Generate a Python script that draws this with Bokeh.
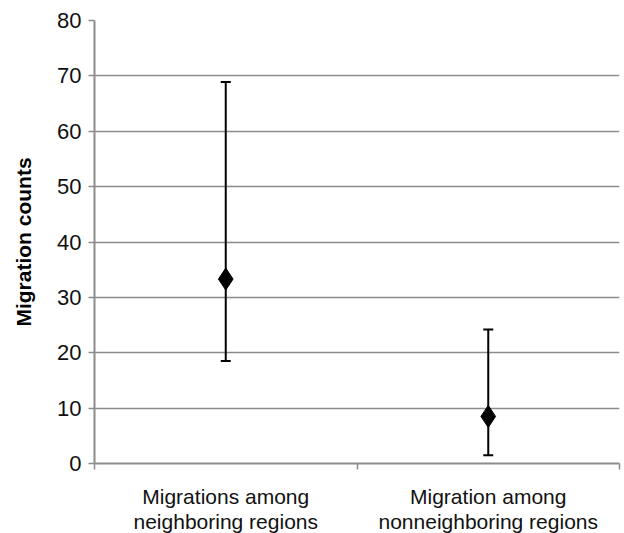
from bokeh.plotting import figure
from bokeh.models import ColumnDataSource, Whisker, FixedTicker, Range1d, LinearAxis
from bokeh.embed import file_html
from bokeh.resources import INLINE

categories_line1 = ["Migrations among", "Migration among"]
categories_line2 = ["neighboring regions", "nonneighboring regions"]
cat_pos = [0.5, 1.5]
cat_bounds = [0, 1, 2]
means = [33.3, 8.5]
upper = [68.9, 24.2]
lower = [18.5, 1.5]
y_ticks = [0, 10, 20, 30, 40, 50, 60, 70, 80]

FONT = "Liberation Sans"
GRID = "#8c8c8c"

p = figure(frame_width=525, frame_height=443, output_backend="svg", toolbar_location=None,
           x_range=Range1d(0, 2), y_range=Range1d(0, 80),
           min_border_left=94, min_border_top=20, min_border_bottom=60, min_border_right=4)
p.outline_line_color = None
p.background_fill_color = "white"
p.border_fill_color = "white"

# grid
p.xgrid.grid_line_color = None
p.ygrid.grid_line_color = GRID
p.ygrid.grid_line_width = 1.5
p.ygrid.ticker = FixedTicker(ticks=y_ticks)

# y axis
p.yaxis.ticker = FixedTicker(ticks=y_ticks)
p.yaxis.axis_line_color = GRID
p.yaxis.axis_line_width = 2
p.yaxis.major_tick_line_color = GRID
p.yaxis.major_tick_line_width = 1.5
p.yaxis.major_tick_out = 6
p.yaxis.major_tick_in = 0
p.yaxis.minor_tick_line_color = None
p.yaxis.major_label_text_font = FONT
p.yaxis.major_label_text_font_size = "22px"
p.yaxis.major_label_text_color = "#111111"
p.yaxis.major_label_standoff = 7
p.yaxis.axis_label = "Migration counts"
p.yaxis.axis_label_text_font = FONT
p.yaxis.axis_label_text_font_style = "bold"
p.yaxis.axis_label_text_font_size = "21px"
p.yaxis.axis_label_text_color = "#000000"
p.yaxis.axis_label_standoff = 19

# x axis: first label line
xa = p.xaxis[0]
xa.ticker = FixedTicker(ticks=cat_pos, minor_ticks=cat_bounds)
xa.major_label_overrides = {cat_pos[i]: categories_line1[i] for i in range(2)}
xa.axis_line_color = GRID
xa.axis_line_width = 2
xa.major_tick_line_color = None
xa.major_tick_out = 0
xa.major_tick_in = 0
xa.major_label_text_font = FONT
xa.major_label_text_font_size = "21px"
xa.major_label_text_color = "#111111"
xa.major_label_standoff = 15
xa.minor_tick_line_color = GRID
xa.minor_tick_line_width = 1.5
xa.minor_tick_out = 6
xa.minor_tick_in = 0

# second label line via an extra axis
xb = LinearAxis(ticker=FixedTicker(ticks=cat_pos, minor_ticks=[]),
                major_label_overrides={cat_pos[i]: categories_line2[i] for i in range(2)})
xb.axis_line_color = None
xb.major_tick_line_color = None
xb.minor_tick_line_color = None
xb.major_tick_out = 0
xb.major_tick_in = 0
xb.major_label_text_font = FONT
xb.major_label_text_font_size = "21px"
xb.major_label_text_color = "#111111"
xb.major_label_standoff = -1
p.add_layout(xb, "below")

src = ColumnDataSource(data=dict(x=cat_pos, mean=means, upper=upper, lower=lower))
w = Whisker(base="x", upper="upper", lower="lower", source=src, dimension="height",
            line_color="black", line_width=2)
for h in (w.upper_head, w.lower_head):
    h.size = 10
    h.line_width = 2
    h.line_color = "black"
p.add_layout(w)

p.scatter(x="x", y="mean", source=src, marker="diamond", size=22,
          fill_color="black", line_color="black")

open("out.html", "w").write(file_html(p, INLINE))
